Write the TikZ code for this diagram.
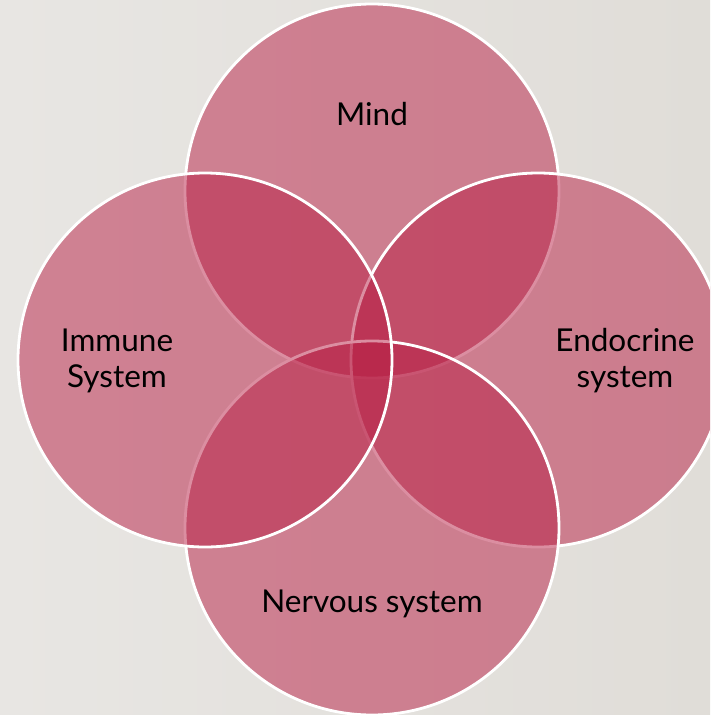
\documentclass[tikz,border=0pt]{standalone}
\usepackage{fontspec}
\setmainfont{Lato}
\begin{document}
\begin{tikzpicture}[x=1pt,y=-1pt,
  venn/.style={fill=vennred,fill opacity=0.5,draw=white,line width=2.8pt},
  lbl/.style={text=black,font=\fontsize{31.5}{36}\selectfont,align=center,inner sep=0pt}]
\definecolor{vennred}{RGB}{184,30,68}
\definecolor{bgA}{RGB}{232,230,227}
\definecolor{bgB}{RGB}{224,221,216}
\useasboundingbox (0,0) rectangle (710,715);
\shade[shading angle=135,left color=bgA,right color=bgB] (0,0) rectangle (710,715);
\begin{scope}
\clip (0,0) rectangle (710,715);
\path[venn] (372,191) circle (187pt);
\path[venn] (538,360) circle (187pt);
\path[venn] (372,528) circle (187pt);
\path[venn] (205,360) circle (187pt);
\end{scope}
\node[lbl] (mind) at (372,114) {Mind};
\node[lbl] (immune) at (117,361) {Immune\\System};
\node[lbl] (endo) at (625,361) {Endocrine\\system};
\node[lbl] (nerv) at (372,604) {Nervous system};
\end{tikzpicture}
\end{document}
